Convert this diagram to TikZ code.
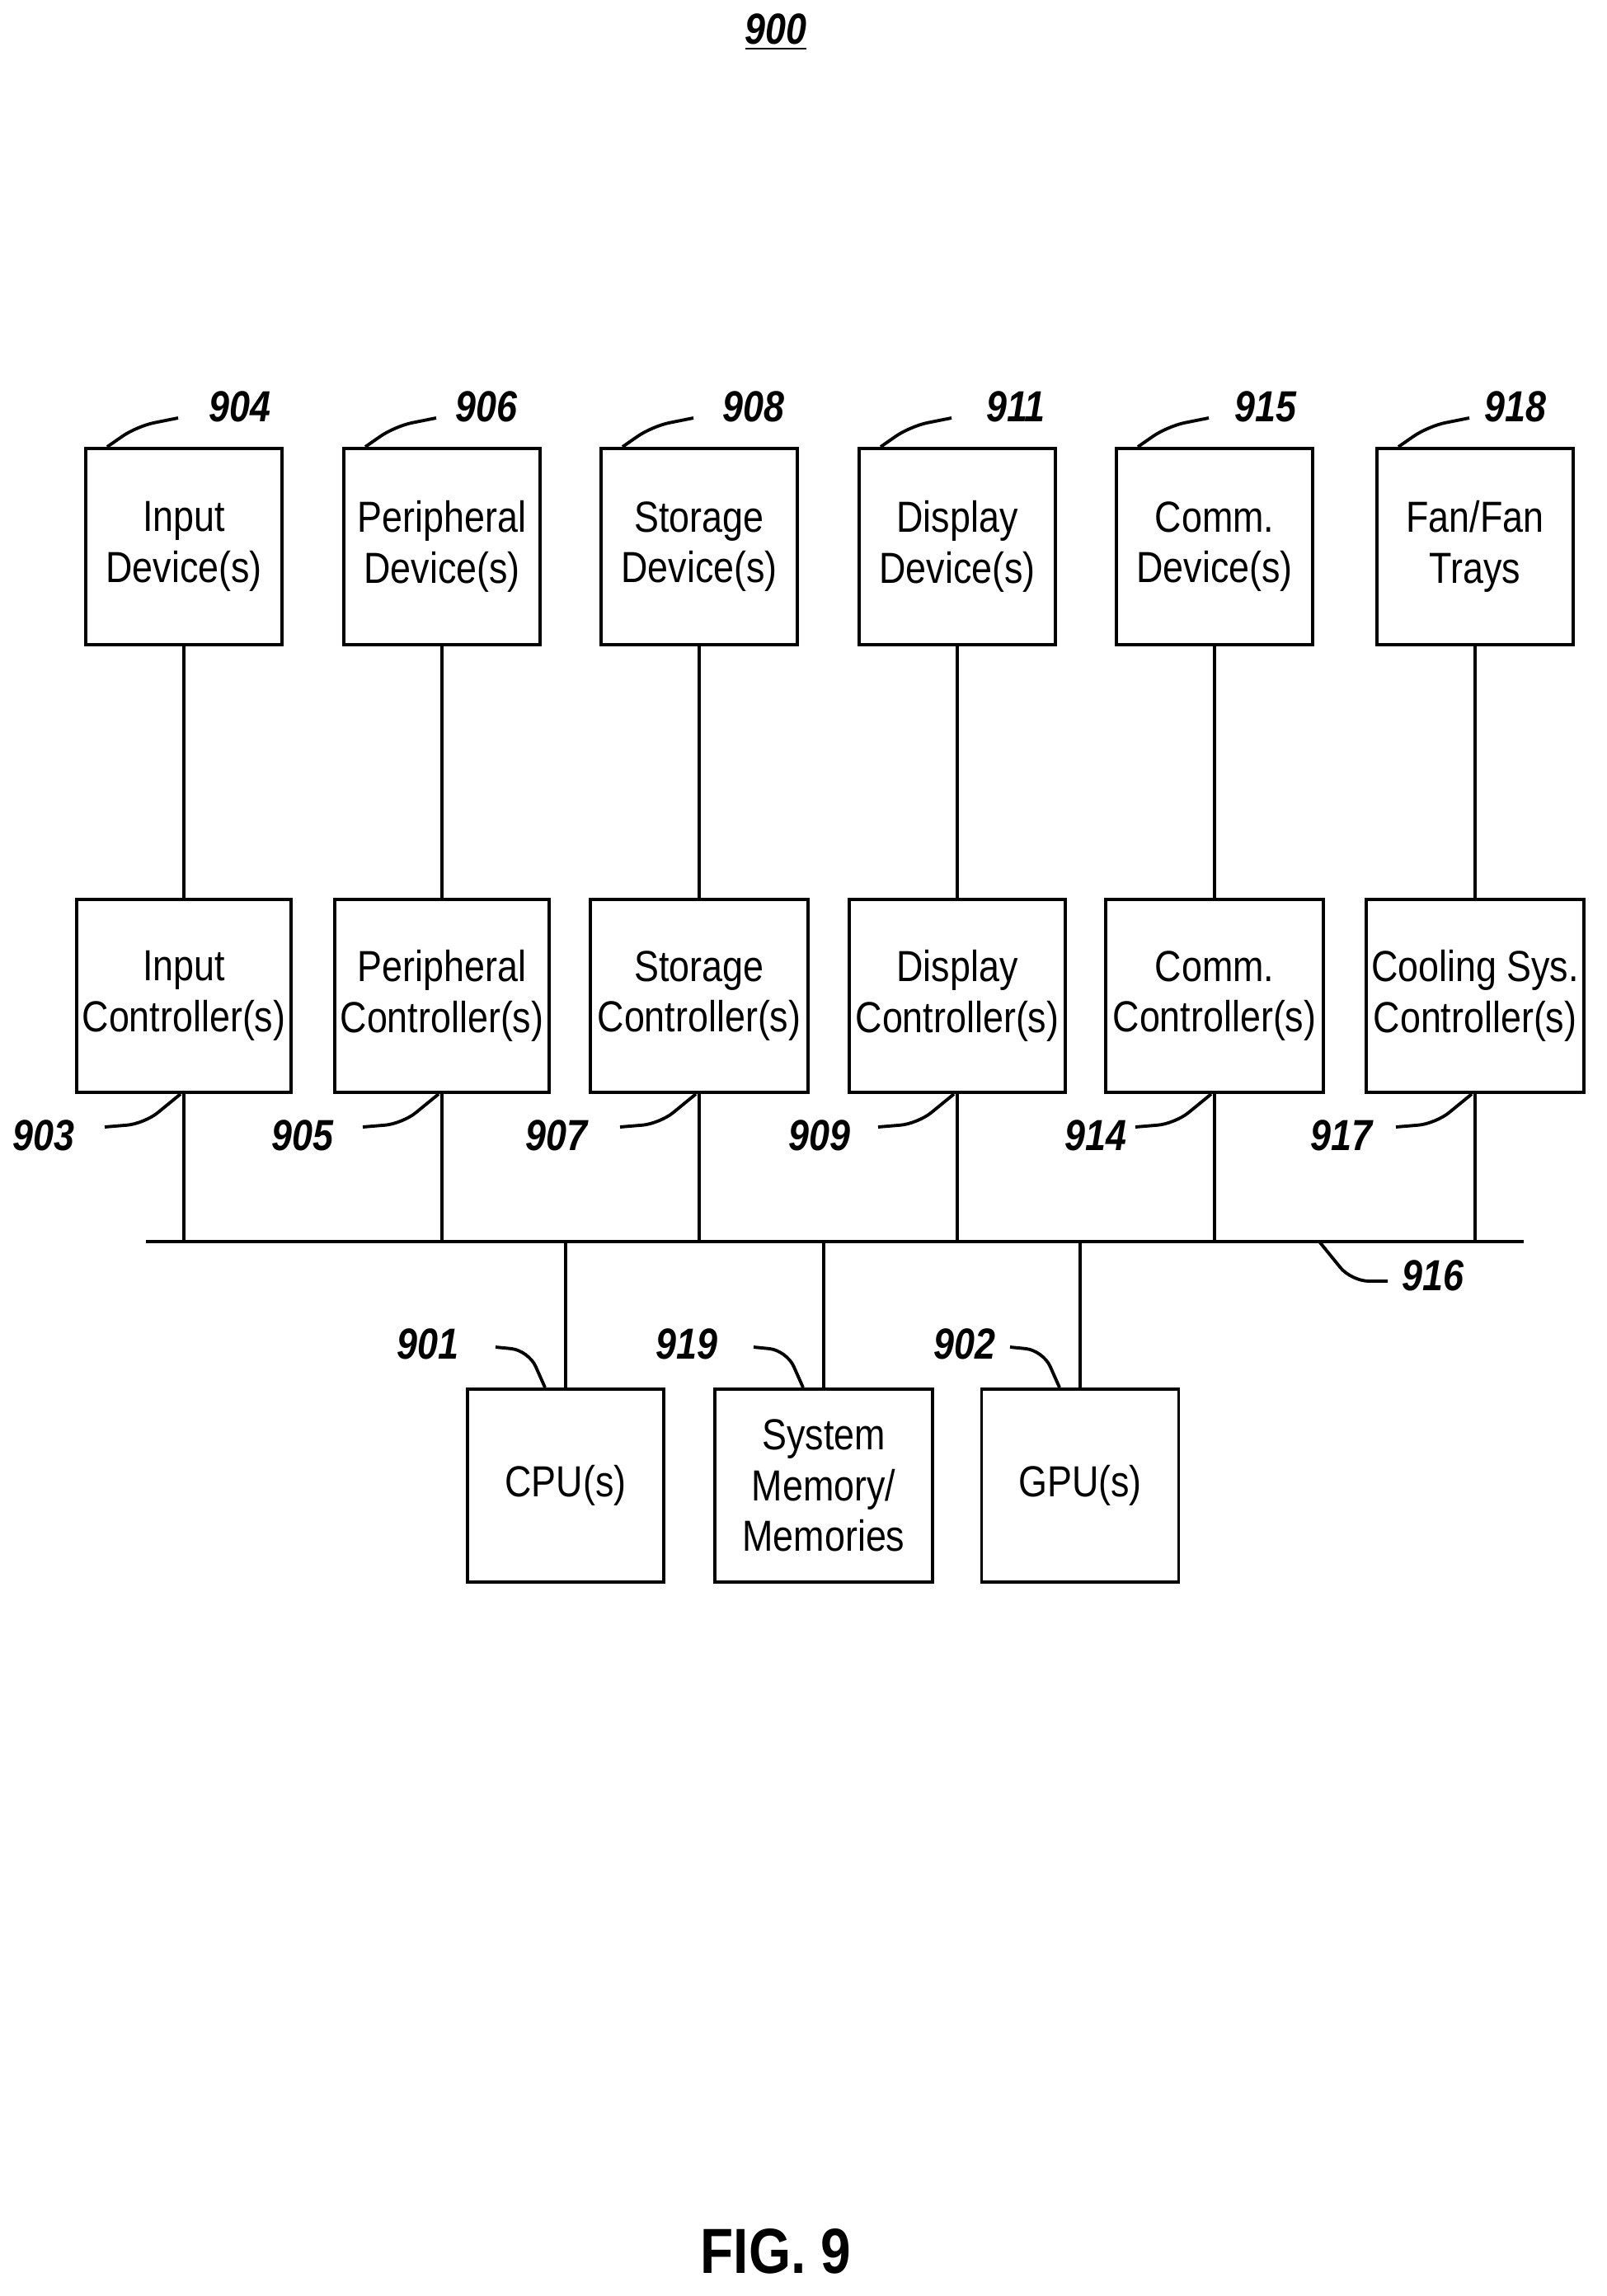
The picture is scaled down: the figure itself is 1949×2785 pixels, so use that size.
\documentclass[tikz,border=0pt]{standalone}
\usepackage{fontspec}
\setmainfont[FakeStretch=0.85]{Liberation Sans}
\begin{document}
\begin{tikzpicture}[x=0.01cm,y=-0.01cm,line width=1.1pt,
    box/.style={draw,align=center,inner sep=0pt,font=\fontsize{15}{17.5}\selectfont},
    num/.style={font=\fontsize{15}{17}\selectfont\bfseries\itshape},
    lead/.style={line width=1.1pt,rounded corners=6pt}]
    \useasboundingbox (0,0) rectangle (1949,2785);
    % title
    \node[num] (title) at (941,39) {\underline{900}};

    % devices and their controllers
    \foreach \n/\x/\w/\dev/\ctl/\dn/\dx/\cn/\cx in {
        in/223/260/{Input\\Device(s)}/{Input\\Controller(s)}/904/291/903/53,
        pe/536/260/{Peripheral\\Device(s)}/{Peripheral\\Controller(s)}/906/590/905/367,
        st/848/264/{Storage\\Device(s)}/{Storage\\Controller(s)}/908/914/907/675,
        di/1161/262/{Display\\Device(s)}/{Display\\Controller(s)}/911/1232/909/994,
        co/1473/264/{Comm.\\Device(s)}/{Comm.\\Controller(s)}/915/1535/914/1329,
        fa/1789/264/{Fan/Fan\\Trays}/{Cooling Sys.\\Controller(s)}/918/1838/917/1627}{
        \node[box,minimum width=2.38cm,minimum height=2.38cm] (\n dev) at (\x,663) {\dev};
        \node[box,minimum width=\w*0.01cm,minimum height=2.34cm] (\n ctl) at (\x,1208) {\ctl};
        \draw (\n dev.south) -- (\n ctl.north);
        \draw (\n ctl.south) -- (\x,1506);
        % reference numerals
        \node[num] (\n devnum) at (\dx,493) {\dn};
        \draw[lead] ([xshift=0.28cm]\n dev.north west) -- ++(36,-25) -- ++(50,-10);
        \node[num] (\n ctlnum) at (\cx,1377) {\cn};
        \draw[lead] ([xshift=-0.04cm]\n ctl.south) -- ++(-44,36) -- ++(-48,4);
    }

    % bus
    \coordinate (busl) at (177,1506);
    \coordinate (busr) at (1848,1506);
    \draw (busl) -- (busr);
    \node[num] (busnum) at (1738,1547) {916};
    \draw[lead] (1600,1506) -- (1639,1554) -- (1683,1554);

    % processors and memory
    \foreach \n/\x/\w/\txt/\num/\nx in {
        cpu/686/238/{CPU(s)}/901/519,
        mem/999/264/{System\\Memory/\\Memories}/919/833,
        gpu/1310/239/{GPU(s)}/902/1170}{
        \node[box,minimum width=\w*0.01cm,minimum height=2.34cm] (\n) at (\x,1802) {\txt};
        \draw (\n.north) -- (\x,1506);
        \node[num] (\n num) at (\nx,1630) {\num};
        \draw[lead] ([xshift=-0.25cm]\n.north) -- ++(-20,-45) -- ++(-40,-4);
    }

    \node[font=\fontsize{22}{24}\selectfont\bfseries] (fig) at (941,2731) {FIG. 9};
\end{tikzpicture}
\end{document}
